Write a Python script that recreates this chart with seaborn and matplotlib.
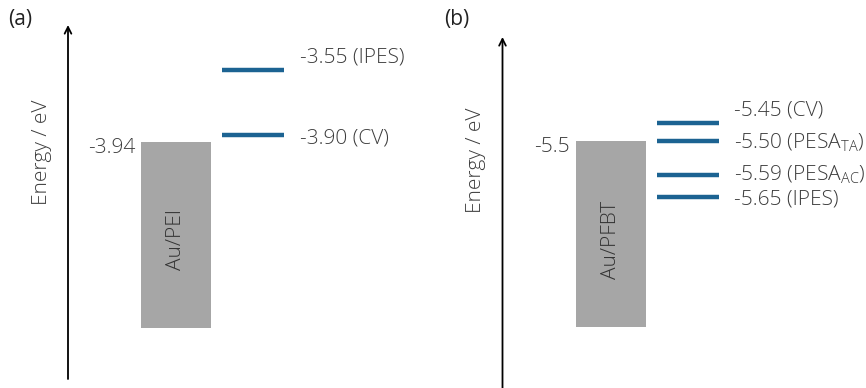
import matplotlib
matplotlib.use("Agg")
import matplotlib.pyplot as plt
import seaborn as sns

sns.set_theme(style="white")
plt.rcParams["font.family"] = ["Open Sans", "DejaVu Sans"]
plt.rcParams["font.weight"] = "light"
plt.rcParams["mathtext.fontset"] = "custom"
plt.rcParams["mathtext.rm"] = "Open Sans:light"

# Energy levels (eV)
panels = ["(a)", "(b)"]
electrode_names = ["Au/PEI", "Au/PFBT"]
electrode_top = [-3.94, -5.5]
electrode_top_labels = ["-3.94", "-5.5"]
electrode_bottom = [-4.95, -6.0]
level_values = [[-3.55, -3.90], [-5.45, -5.50, -5.59, -5.65]]
level_labels = [
    ["-3.55 (IPES)", "-3.90 (CV)"],
    ["-5.45 (CV)", r"-5.50 (PESA$_\mathregular{TA}$)",
     r"-5.59 (PESA$_\mathregular{AC}$)", "-5.65 (IPES)"],
]

# Layout: vertical energy ranges of each panel and label offsets (points)
ylims = [(-5.2784, -3.1674), (-6.1636, -5.120)]
label_dy = [[9, -3], [9, -1, 0, -2]]

W, H = 866, 388
fig = plt.figure(figsize=(W / 100, H / 100), dpi=100)
text_color = "#3c3c3c"
level_color = "#1c6392"
box_color = "#a6a6a6"
fs = 15

for i in range(2):
    ax = fig.add_axes([i * 0.5, 0, 0.5, 1])
    ax.set_xlim(0, 433)
    ax.set_ylim(*ylims[i])
    ax.axis("off")
    dx = 0 if i == 0 else 1.5

    # vertical energy arrow
    y0, y1 = ylims[i]
    span = y1 - y0
    arrow_bottom = y0 + span * (9 / H) if i == 0 else y0 - 0.01
    arrow_top = y1 - span * ((25 if i == 0 else 37) / H)
    ax.annotate("", xy=(68 + dx, arrow_top), xytext=(68 + dx, arrow_bottom),
                arrowprops=dict(arrowstyle="->", color="black", lw=1.3,
                                mutation_scale=12, shrinkA=0, shrinkB=0))
    ax.text(8 + dx * 2, y1 - span * (20 / H), panels[i], fontsize=15,
            fontweight="normal", color="#222222", va="center", ha="left")
    ax.text(42 + dx, y1 - span * ((152 if i == 0 else 160) / H), "Energy / eV",
            rotation=90, fontsize=15, color=text_color,
            va="center", ha="center")

    # electrode block
    ax.bar(176 + dx, electrode_top[i] - electrode_bottom[i],
           bottom=electrode_bottom[i], width=70, color=box_color,
           edgecolor="none")
    ax.text(176 + dx, y1 - span * (240 / H), electrode_names[i], rotation=90,
            fontsize=15, color="#333333", va="center", ha="center")
    ax.annotate(electrode_top_labels[i], xy=(135 + dx, electrode_top[i]),
                xytext=(0, -4), textcoords="offset points",
                ha="right", va="center", fontsize=fs, color=text_color)

    # molecular levels
    for v, lab, off in zip(level_values[i], level_labels[i], label_dy[i]):
        ax.hlines(v, 222 + dx, 284 + dx, color=level_color, lw=3.2)
        ax.annotate(lab, xy=(300 + dx, v), xytext=(0, off),
                    textcoords="offset points", ha="left", va="center",
                    fontsize=fs, color=text_color)

fig.savefig("out.png", dpi=100)
